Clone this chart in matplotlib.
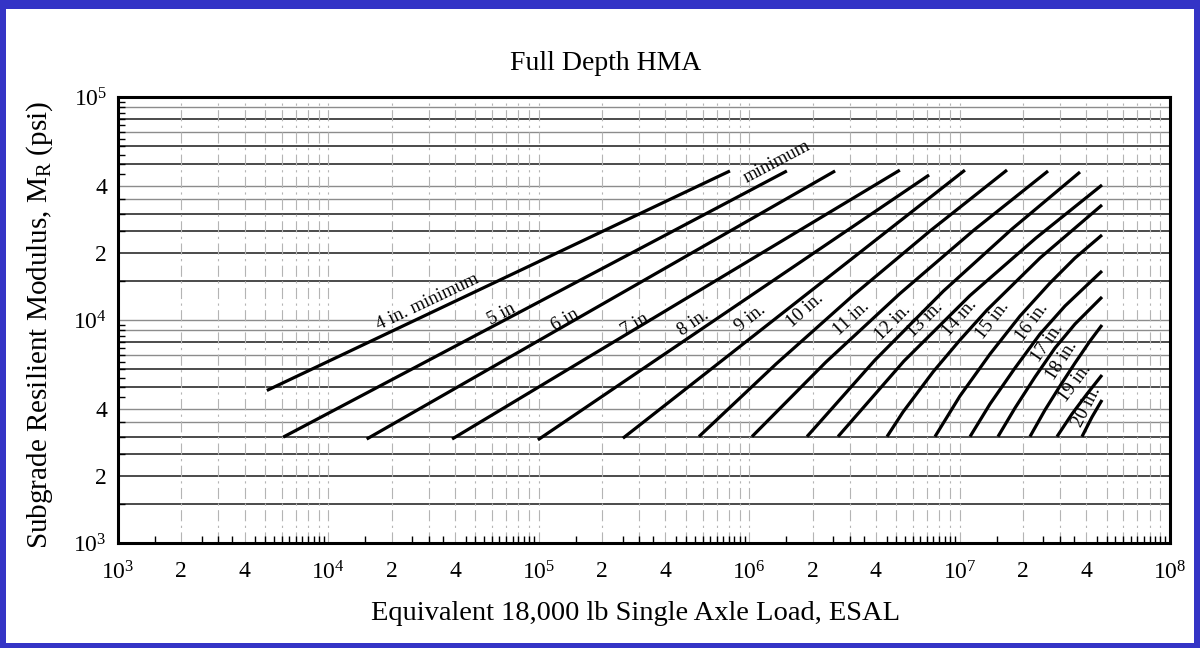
import numpy as np
import matplotlib
matplotlib.use("Agg")
import matplotlib.pyplot as plt
from matplotlib.patches import Rectangle

plt.rcParams["font.family"] = ["Liberation Serif", "DejaVu Serif"]
plt.rcParams["mathtext.fontset"] = "custom"
plt.rcParams["mathtext.rm"] = "Liberation Serif"
plt.rcParams["mathtext.it"] = "Liberation Serif:italic"

# Full-depth HMA thickness curves: ESAL vs subgrade resilient modulus (psi)
thickness_labels = ["4 in. minimum", "5 in", "6 in", "7 in.", "8 in.", "9 in.",
                    "10 in.", "11 in.", "12 in.", "13 in.", "14 in.", "15 in.",
                    "16 in.", "17 in.", "18 in.", "19 in.", "20 in."]

curve_esal = [
    [5.1e3, 8.1e5],
    [6.1e3, 1.51e6],
    [1.52e4, 2.56e6],
    [3.87e4, 5.2e6],
    [9.9e4, 7.16e6],
    [2.51e5, 1.06e7],
    [5.77e5, 1.341e6, 3.113e6, 7.233e6, 1.68e7],
    [1.031e6, 2.317e6, 5.21e6, 1.171e7, 2.632e7],
    [1.882e6, 3.962e6, 8.384e6, 1.774e7, 3.735e7],
    [2.643e6, 5.441e6, 1.121e7, 2.307e7, 4.752e7],
    [4.519e6, 5.383e6, 7.475e6, 1.004e7, 1.35e7, 2.411e7, 4.752e7],
    [7.64e6, 1.004e7, 1.395e7, 1.937e7, 2.689e7, 3.536e7, 4.752e7],
    [1.121e7, 1.395e7, 1.834e7, 2.411e7, 3.17e7, 3.945e7, 4.752e7],
    [1.522e7, 1.834e7, 2.282e7, 2.84e7, 3.536e7, 4.752e7],
    [2.16e7, 2.546e7, 3.0e7, 3.536e7, 4.167e7, 4.752e7],
    [2.903e7, 3.421e7, 4.031e7, 4.752e7],
    [3.817e7, 4.259e7, 4.752e7],
]

curve_mr = [
    [4830, 46600],
    [2985, 46600],
    [2925, 46600],
    [2925, 47000],
    [2900, 44700],
    [2950, 47000],
    [3000, 6348, 12880, 25070, 47050],
    [3000, 6481, 13150, 25330, 46570],
    [3000, 6615, 13490, 25590, 46090],
    [3000, 6547, 12880, 23320, 40310],
    [3000, 3868, 5847, 8134, 11090, 18970, 32800],
    [3000, 4563, 7038, 10420, 14650, 18970, 24060],
    [3000, 4201, 6094, 8653, 11560, 14060, 16590],
    [3000, 4031, 5551, 7487, 9596, 12680],
    [3000, 3949, 5058, 6414, 8050, 9497],
    [3000, 3790, 4659, 5667],
    [3000, 3673, 4378],
]

# where each thickness label is written (ESAL, psi)
label_esal = [2.974e4, 6.685e4, 1.332e5, 2.929e5, 5.405e5, 1.009e6, 1.842e6, 3.046e6,
              4.825e6, 6.847e6, 1.004e7, 1.441e7, 2.209e7, 2.603e7, 3.067e7, 3.536e7, 4.031e7]
label_mr = [12040, 10640, 10000, 9694, 9694, 10210, 11090, 10210,
            9694, 10000, 10210, 10000, 9795, 7886, 6615, 5219, 4073]

x_tick_values = [1e3, 2e3, 4e3, 1e4, 2e4, 4e4, 1e5, 2e5, 4e5,
                 1e6, 2e6, 4e6, 1e7, 2e7, 4e7, 1e8]
x_tick_labels = ["$10^3$", "2", "4", "$10^4$", "2", "4", "$10^5$", "2", "4",
                 "$10^6$", "2", "4", "$10^7$", "2", "4", "$10^8$"]
y_tick_values = [1e3, 2e3, 4e3, 1e4, 2e4, 4e4, 1e5]
y_tick_labels = ["$10^3$", "2", "4", "$10^4$", "2", "4", "$10^5$"]

W, H = 1200, 648
fig = plt.figure(figsize=(W / 100, H / 100), dpi=100)
fig.patch.set_facecolor("white")

# blue frame around the figure
frame_blue = "#3434c6"
for (x0, y0, w, h) in [(0, H - 9, W, 9), (0, 0, W, 5), (0, 0, 6, H), (W - 6, 0, 6, H)]:
    fig.patches.append(Rectangle((x0 / W, y0 / H), w / W, h / H, transform=fig.transFigure,
                                 facecolor=frame_blue, edgecolor="none", zorder=0))

L, R, T, B = 118, 1170, 97, 543
ax = fig.add_axes([L / W, 1 - B / H, (R - L) / W, (B - T) / H])
ax.set_xscale("log")
ax.set_yscale("log")
ax.set_xlim(1e3, 1e8)
ax.set_ylim(1e3, 1e5)

# chart grid: horizontal rules, darker at the main values
dark_mult = [1.5, 2, 2.5, 3, 5, 6, 8]
light_mult = [3.5, 4, 7, 9]
for dec in [1e3, 1e4]:
    for m in dark_mult:
        ax.axhline(m * dec, color="#1a1a1a", lw=1.1, zorder=1)
    for m in light_mult:
        ax.axhline(m * dec, color="#8c8c8c", lw=1.0, zorder=1)
ax.axhline(1e4, color="#8c8c8c", lw=1.0, zorder=1)
for dec in [1e3, 1e4, 1e5, 1e6, 1e7]:
    for m in range(1, 10):
        if dec * m > 1e3:
            ax.axvline(m * dec, color="#b4b4b4", lw=0.8, zorder=1,
                       ls=(0, (10, 4, 2, 4)))

# thickness curves
for xs, ys in zip(curve_esal, curve_mr):
    ax.plot(xs, ys, color="black", lw=2.3, solid_capstyle="butt",
            solid_joinstyle="round", zorder=3)


def curve_angle(xs, ys, xq):
    lx, ly = np.log10(xs), np.log10(ys)
    lq = np.clip(np.log10(xq), lx[0] + 0.02, lx[-1] - 0.02)
    d = 0.02
    ya = 10 ** np.interp(lq - d, lx, ly)
    yb = 10 ** np.interp(lq + d, lx, ly)
    p0 = ax.transData.transform((10 ** (lq - d), ya))
    p1 = ax.transData.transform((10 ** (lq + d), yb))
    return np.degrees(np.arctan2(p1[1] - p0[1], p1[0] - p0[0]))


for text, xs, ys, lx_, ly_ in zip(thickness_labels, curve_esal, curve_mr, label_esal, label_mr):
    ang = curve_angle(xs, ys, lx_)
    ax.text(lx_, ly_, text, rotation=ang, rotation_mode="anchor",
            ha="center", va="center", fontsize=13.5, zorder=4)

# "minimum" note beside the upper end of the 5 in curve
ang = curve_angle(curve_esal[1], curve_mr[1], 1.3e6)
ax.text(1.356e6, 51110, "minimum", rotation=ang, rotation_mode="anchor",
        ha="center", va="center", fontsize=13.5, zorder=4)

ax.set_xticks(x_tick_values)
ax.set_xticklabels(x_tick_labels)
ax.set_yticks(y_tick_values)
ax.set_yticklabels(y_tick_labels)
ax.tick_params(axis="both", which="major", length=0, labelsize=17)
ax.tick_params(axis="x", which="major", pad=13)
ax.tick_params(axis="y", which="major", pad=8)
ax.xaxis.set_minor_locator(matplotlib.ticker.LogLocator(base=10, subs=np.arange(1, 10, 0.5)))
ax.yaxis.set_minor_locator(matplotlib.ticker.LogLocator(base=10, subs=np.arange(1, 10, 0.5)))
ax.xaxis.set_minor_formatter(matplotlib.ticker.NullFormatter())
ax.yaxis.set_minor_formatter(matplotlib.ticker.NullFormatter())
ax.tick_params(which="minor", direction="in", length=5, width=1.0, color="black")
for s in ax.spines.values():
    s.set_linewidth(2.2)
    s.set_zorder(5)

fig.text(606 / W, 1 - 63 / H, "Full Depth HMA", ha="center", va="center", fontsize=20)
fig.text(636 / W, 1 - 614 / H, "Equivalent 18,000 lb Single Axle Load, ESAL",
         ha="center", va="center", fontsize=20.5)
fig.text(40 / W, 1 - 325 / H, r"Subgrade Resilient Modulus, M$_\mathregular{R}$ (psi)",
         ha="center", va="center", rotation=90, fontsize=21)

fig.savefig("out.png", dpi=100)
